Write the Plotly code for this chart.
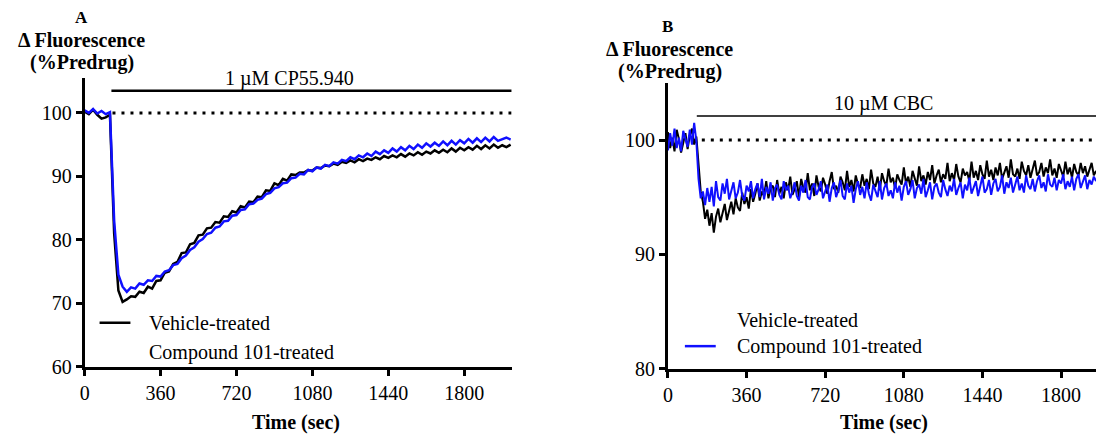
import plotly.graph_objects as go

# ---------------- data ----------------
# Panel A sampled every 20 s, panel B every 10 s
TIME_A = list(range(0, 2040, 20))
TIME_B = list(range(0, 1970, 10))

A_VEHICLE = [
    100.2, 99.8, 100.5, 99.7, 99.1, 99.3, 99.7, 81.0, 72.0, 70.2,
    70.6, 71.1, 71.0, 71.8, 71.6, 72.6, 72.3, 73.5, 73.6, 74.8,
    75.0, 76.2, 76.5, 77.9, 78.0, 79.3, 79.5, 80.7, 80.8, 81.8,
    81.9, 82.8, 82.7, 83.7, 83.6, 84.5, 84.3, 85.3, 85.1, 86.0,
    85.9, 86.8, 86.7, 87.8, 87.7, 88.9, 88.6, 89.6, 89.3, 90.3,
    90.2, 90.6, 90.6, 91.0, 90.9, 91.4, 91.3, 91.7, 91.6, 92.0,
    91.8, 92.3, 92.1, 92.5, 92.2, 92.7, 92.4, 92.8, 92.6, 93.0,
    92.7, 93.2, 92.9, 93.3, 93.0, 93.5, 93.1, 93.6, 93.3, 93.8,
    93.4, 93.9, 93.6, 94.1, 93.7, 94.2, 93.8, 94.4, 93.9, 94.5,
    94.1, 94.6, 94.2, 94.8, 94.3, 94.9, 94.4, 95.0, 94.5, 94.9,
    94.6, 95.0,
]
A_COMPOUND = [
    100.4, 100.0, 100.6, 99.9, 100.3, 99.8, 100.1, 83.0, 74.5, 72.6,
    71.8, 72.5, 72.3, 73.1, 72.9, 73.6, 73.5, 74.3, 74.2, 75.0,
    75.2, 76.0, 76.2, 77.1, 77.5, 78.4, 78.8, 79.7, 80.1, 80.9,
    81.1, 81.9, 82.1, 82.9, 83.0, 83.8, 83.9, 84.7, 84.8, 85.6,
    85.7, 86.3, 86.5, 87.2, 87.4, 88.1, 88.3, 88.9, 89.0, 89.7,
    89.8, 90.4, 90.3, 91.0, 90.8, 91.4, 91.2, 91.8, 91.6, 92.2,
    92.0, 92.6, 92.4, 93.0, 92.7, 93.3, 93.0, 93.6, 93.2, 93.9,
    93.5, 94.1, 93.7, 94.4, 93.9, 94.6, 94.1, 94.8, 94.3, 95.0,
    94.5, 95.2, 94.7, 95.3, 94.8, 95.5, 94.9, 95.6, 95.0, 95.7,
    95.2, 95.9, 95.3, 96.0, 95.4, 96.1, 95.5, 96.2, 95.6, 95.9,
    96.1, 95.8,
]
B_VEHICLE = [
    100.7, 99.3, 100.2, 99.0, 100.9, 100.1, 98.9, 99.8, 100.6, 99.2,
    100.4, 101.0, 99.6, 100.3, 97.6, 95.5, 94.6, 93.1, 93.9, 92.5,
    93.6, 91.9, 93.3, 94.0, 92.8, 93.5, 94.4, 93.0, 93.9, 94.6,
    93.5, 94.9, 94.1, 93.8, 95.4, 94.4, 95.0, 94.0, 95.7, 94.6,
    95.3, 96.2, 94.7, 95.5, 95.1, 96.4, 94.9, 95.8, 96.0, 95.0,
    96.5, 95.3, 95.9, 94.9, 96.3, 95.6, 96.8, 95.2, 95.7, 96.4,
    95.0, 96.6, 95.8, 95.4, 97.1, 95.6, 96.2, 95.1, 96.9, 95.9,
    95.5, 96.7, 96.1, 95.3, 96.4, 97.2, 95.7, 96.0, 95.4, 96.8,
    96.3, 95.6, 97.3, 95.9, 96.5, 95.5, 96.9, 96.1, 95.8, 97.0,
    96.0, 96.6, 95.7, 97.4, 96.2, 95.9, 96.8, 95.6, 97.1, 96.4,
    96.0, 97.5, 96.3, 96.7, 95.8, 97.0, 96.5, 96.1, 97.6, 96.2,
    96.8, 95.9, 97.3, 96.6, 96.0, 97.7, 96.4, 96.9, 96.1, 97.2,
    96.5, 97.8, 96.2, 96.9, 97.4, 96.3, 97.0, 96.6, 98.0, 96.4,
    97.1, 96.5, 97.9, 96.8, 96.3, 97.5, 96.9, 97.2, 96.4, 98.1,
    96.7, 97.3, 96.5, 97.8, 97.0, 96.6, 98.2, 96.8, 97.4, 96.5,
    97.6, 96.9, 98.0, 96.6, 97.2, 97.7, 96.7, 98.3, 97.0, 96.8,
    97.5, 96.6, 98.1, 97.3, 96.9, 97.8, 96.7, 97.4, 98.2, 96.9,
    97.2, 98.0, 96.8, 97.6, 97.1, 98.3, 96.9, 97.5, 96.7, 97.9,
    97.3, 96.8, 98.1, 97.0, 97.6, 96.7, 97.9, 97.2, 96.9, 98.0,
    97.1, 97.7, 96.8, 97.4, 98.0, 96.9, 97.3,
]
B_COMPOUND = [
    99.1, 100.6, 99.5, 101.0, 99.3, 100.2, 99.0, 100.8, 100.1, 99.4,
    100.9, 99.6, 101.5, 99.9, 96.6, 94.9, 95.5, 94.3, 95.8, 94.6,
    95.9, 94.2, 96.4, 95.0, 94.7, 96.2, 95.3, 96.6, 94.8, 95.6,
    96.3, 94.9, 95.4, 96.5, 95.1, 94.7, 96.0, 95.5, 96.4, 94.9,
    95.7, 96.2, 95.0, 96.6, 94.8, 95.9, 95.3, 96.3, 94.7, 95.8,
    96.1, 95.2, 94.8, 96.4, 95.6, 96.0, 94.9, 95.5, 96.3, 95.1,
    94.7, 96.0, 95.4, 96.5, 95.0, 94.8, 95.9, 96.2, 95.2, 95.7,
    96.4, 94.9, 95.5, 96.1, 94.6, 95.8, 96.3, 95.0, 95.6, 96.5,
    95.1, 94.8, 96.2, 95.4, 96.0, 94.5, 95.7, 96.4, 95.2, 95.9,
    94.9, 96.3, 95.3, 94.7, 96.1, 95.6, 95.0, 96.4, 94.8, 95.8,
    96.2, 95.1, 95.6, 94.9, 96.3, 95.4, 96.0, 94.7, 95.9, 96.4,
    95.2, 95.7, 96.5, 94.9, 95.8, 96.1, 95.3, 96.6, 95.0, 95.6,
    96.3, 94.8, 95.9, 96.2, 95.4, 95.0, 96.5, 95.7, 95.1, 96.0,
    95.5, 96.6, 95.2, 95.8, 96.3, 94.9, 96.1, 95.6, 96.7, 95.3,
    95.9, 96.4, 95.1, 96.0, 96.8, 95.4, 95.7, 96.5, 95.2, 96.2,
    96.6, 95.5, 95.9, 96.9, 95.3, 96.3, 95.8, 96.7, 95.4, 96.1,
    96.8, 95.6, 96.2, 95.4, 96.9, 96.0, 95.7, 96.6, 95.5, 96.4,
    96.9, 95.8, 96.3, 95.5, 97.0, 96.1, 95.9, 96.7, 95.6, 96.5,
    96.2, 97.0, 95.7, 96.4, 95.9, 96.8, 95.6, 96.6, 97.0, 95.8,
    96.3, 96.9, 95.7, 96.5, 96.1, 96.8, 96.4,
]

BASELINE = 100
A_DRUG_SPAN = [127, 2025]
A_DRUG_LEVEL = 103.5
A_DOT_SPAN = [132, 2025]
B_DRUG_SPAN = [132, 1960]
B_DRUG_LEVEL = 102.1
B_DOT_SPAN = [155, 1960]

X_TICKS = [0, 360, 720, 1080, 1440, 1800]
A_Y_TICKS = [60, 70, 80, 90, 100]
B_Y_TICKS = [80, 90, 100]

A_DRUG_LABEL = "1 µM CP55.940"
B_DRUG_LABEL = "10 µM CBC"
SERIES = ["Vehicle-treated", "Compound 101-treated"]

# ---------------- styling ----------------
W, H = 1096, 441
FONT = "Liberation Serif"
FS = 20
BLACK = "#000000"
BLUE = "#1010ff"


def px(x):
    return x / W


def py(y):
    return 1 - y / H


fig = go.Figure()

# dotted baselines
fig.add_trace(go.Scatter(x=A_DOT_SPAN, y=[BASELINE] * 2, mode="lines",
                         line=dict(color=BLACK, width=3, dash="3px,6px"),
                         xaxis="x", yaxis="y", showlegend=False, hoverinfo="skip"))
fig.add_trace(go.Scatter(x=B_DOT_SPAN, y=[BASELINE] * 2, mode="lines",
                         line=dict(color=BLACK, width=3, dash="3px,6px"),
                         xaxis="x2", yaxis="y2", showlegend=False, hoverinfo="skip"))

# drug application bars
fig.add_trace(go.Scatter(x=A_DRUG_SPAN, y=[A_DRUG_LEVEL] * 2, mode="lines",
                         line=dict(color=BLACK, width=2.5),
                         xaxis="x", yaxis="y", showlegend=False, hoverinfo="skip",
                         cliponaxis=False))
fig.add_trace(go.Scatter(x=B_DRUG_SPAN, y=[B_DRUG_LEVEL] * 2, mode="lines",
                         line=dict(color=BLACK, width=1.5),
                         xaxis="x2", yaxis="y2", showlegend=False, hoverinfo="skip"))

# traces
for xa, ya, t, veh, comp, lw in (("x", "y", TIME_A, A_VEHICLE, A_COMPOUND, 2.5),
                                 ("x2", "y2", TIME_B, B_VEHICLE, B_COMPOUND, 2)):
    fig.add_trace(go.Scatter(x=t, y=veh, mode="lines", name=SERIES[0],
                             line=dict(color=BLACK, width=lw),
                             xaxis=xa, yaxis=ya, showlegend=False))
    fig.add_trace(go.Scatter(x=t, y=comp, mode="lines", name=SERIES[1],
                             line=dict(color=BLUE, width=lw),
                             xaxis=xa, yaxis=ya, showlegend=False))

axis_common = dict(
    showline=True, linecolor=BLACK, linewidth=3, mirror=False,
    showgrid=False, zeroline=False,
    ticks="outside", ticklen=6, tickwidth=3, tickcolor=BLACK,
    tickfont=dict(family=FONT, size=FS, color=BLACK),
    fixedrange=True,
)

fig.update_layout(
    width=W, height=H,
    margin=dict(l=0, r=0, t=0, b=0),
    paper_bgcolor="white", plot_bgcolor="white",
    showlegend=False,
    xaxis=dict(domain=[px(80), px(509)], range=[0, 2025], tickvals=X_TICKS,
               anchor="y", **axis_common),
    yaxis=dict(domain=[py(376), py(80)], range=[60, 105.5], tickvals=A_Y_TICKS,
               anchor="x", **axis_common),
    xaxis2=dict(domain=[px(666), 1.0], range=[0, 1960], tickvals=X_TICKS,
                anchor="y2", **axis_common),
    yaxis2=dict(domain=[py(378), py(85)], range=[80, 105], tickvals=B_Y_TICKS,
                anchor="x2", **axis_common),
)

annots = []


def txt(x, y, s, xanchor="center", bold=False, size=FS):
    annots.append(dict(x=px(x), y=py(y), xref="paper", yref="paper",
                       text=(f"<b>{s}</b>" if bold else s),
                       showarrow=False, xanchor=xanchor, yanchor="middle",
                       font=dict(family=FONT, size=size, color=BLACK)))


# panel A labels
txt(77, 18, "A", bold=True, size=17)
txt(77, 41, "Δ Fluorescence", bold=True, size=20)
txt(77, 64, "(%Predrug)", bold=True, size=20)
txt(286, 80, A_DRUG_LABEL)
txt(292, 433, "Time (sec)", bold=True)
txt(143, 331, SERIES[0], xanchor="left")
txt(143, 362, SERIES[1], xanchor="left")

# panel B labels
txt(666, 27, "B", bold=True, size=17)
txt(668, 50, "Δ Fluorescence", bold=True, size=20)
txt(668, 73, "(%Predrug)", bold=True, size=20)
txt(883, 106, B_DRUG_LABEL)
txt(883, 433, "Time (sec)", bold=True)
txt(733, 328, SERIES[0], xanchor="left")
txt(733, 355, SERIES[1], xanchor="left")

fig.update_layout(annotations=annots)

# legend sample lines
fig.add_shape(type="line", xref="paper", yref="paper",
              x0=px(95), x1=px(126), y0=py(331), y1=py(331),
              line=dict(color=BLACK, width=2.5))
fig.add_shape(type="line", xref="paper", yref="paper",
              x0=px(683), x1=px(714), y0=py(355), y1=py(355),
              line=dict(color=BLUE, width=2.5))

fig.write_html("out.html", config={"displayModeBar": False},
               post_script="document.body.style.margin='0';")
